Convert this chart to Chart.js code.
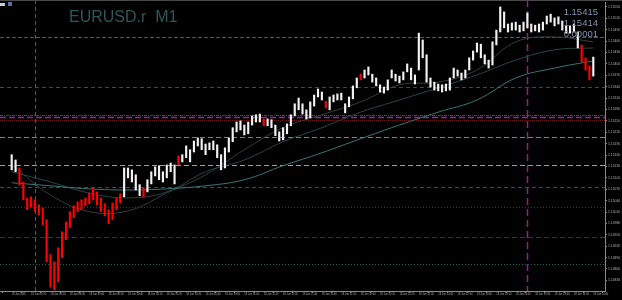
<!DOCTYPE html>
<html>
<head>
<meta charset="utf-8">
<script src="https://cdn.jsdelivr.net/npm/chart.js@4.4.1/dist/chart.umd.min.js"></script>
<style>
  html, body { margin: 0; padding: 0; background: #000; }
</style>
</head>
<body>
<canvas id="grafico" width="622" height="300"></canvas>
<script>
// EURUSD.r M1 - one entry per bar (high / low)
const highs = [
  1.15161, 1.15147, 1.15126, 1.15089, 1.15047, 1.15050, 1.15042, 1.15029, 1.15021, 1.14990,
  1.14898, 1.14879, 1.14916, 1.14958, 1.14984, 1.15011, 1.15026, 1.15037, 1.15042, 1.15047,
  1.15060, 1.15074, 1.15063, 1.15047, 1.15032, 1.15016, 1.15034, 1.15047, 1.15058, 1.15126,
  1.15126, 1.15121, 1.15108, 1.15082, 1.15074, 1.15095, 1.15116, 1.15129, 1.15132, 1.15116,
  1.15134, 1.15139, 1.15134, 1.15158, 1.15161, 1.15184, 1.15174, 1.15197, 1.15205, 1.15203,
  1.15189, 1.15192, 1.15197, 1.15187, 1.15161, 1.15179, 1.15205, 1.15232, 1.15247, 1.15250,
  1.15239, 1.15247, 1.15263, 1.15266, 1.15268, 1.15255, 1.15255, 1.15253, 1.15239, 1.15221,
  1.15232, 1.15242, 1.15266, 1.15295, 1.15310, 1.15295, 1.15279, 1.15300, 1.15318, 1.15334,
  1.15326, 1.15302, 1.15313, 1.15318, 1.15321, 1.15323, 1.15295, 1.15313, 1.15342, 1.15363,
  1.15373, 1.15384, 1.15392, 1.15373, 1.15363, 1.15345, 1.15339, 1.15358, 1.15384, 1.15373,
  1.15368, 1.15379, 1.15400, 1.15389, 1.15371, 1.15481, 1.15463, 1.15424, 1.15363, 1.15352,
  1.15347, 1.15345, 1.15347, 1.15363, 1.15389, 1.15384, 1.15376, 1.15384, 1.15416, 1.15434,
  1.15455, 1.15452, 1.15424, 1.15410, 1.15458, 1.15489, 1.15550, 1.15537, 1.15505, 1.15508,
  1.15510, 1.15502, 1.15510, 1.15534, 1.15505, 1.15502, 1.15505, 1.15510, 1.15526, 1.15531,
  1.15521, 1.15524, 1.15513, 1.15500, 1.15500, 1.15505, 1.15484, 1.15450, 1.15416, 1.15395,
  1.15418
];
const lows = [
  1.15121, 1.15116, 1.15082, 1.15042, 1.15016, 1.15024, 1.15011, 1.15003, 1.14976, 1.14879,
  1.14813, 1.14805, 1.14826, 1.14890, 1.14937, 1.14969, 1.14995, 1.15011, 1.15016, 1.15026,
  1.15032, 1.15042, 1.15029, 1.15011, 1.15000, 1.14979, 1.14990, 1.15016, 1.15034, 1.15050,
  1.15100, 1.15089, 1.15068, 1.15053, 1.15050, 1.15063, 1.15084, 1.15105, 1.15095, 1.15089,
  1.15100, 1.15116, 1.15084, 1.15134, 1.15142, 1.15153, 1.15142, 1.15168, 1.15184, 1.15174,
  1.15161, 1.15174, 1.15174, 1.15153, 1.15121, 1.15126, 1.15168, 1.15195, 1.15221, 1.15226,
  1.15213, 1.15216, 1.15239, 1.15247, 1.15247, 1.15237, 1.15237, 1.15232, 1.15211, 1.15197,
  1.15200, 1.15216, 1.15237, 1.15263, 1.15279, 1.15268, 1.15255, 1.15258, 1.15289, 1.15313,
  1.15305, 1.15284, 1.15279, 1.15300, 1.15305, 1.15305, 1.15271, 1.15287, 1.15308, 1.15337,
  1.15358, 1.15363, 1.15371, 1.15352, 1.15342, 1.15326, 1.15323, 1.15331, 1.15363, 1.15355,
  1.15350, 1.15358, 1.15379, 1.15358, 1.15347, 1.15384, 1.15416, 1.15352, 1.15339, 1.15331,
  1.15329, 1.15326, 1.15329, 1.15331, 1.15363, 1.15368, 1.15358, 1.15363, 1.15384, 1.15410,
  1.15431, 1.15416, 1.15400, 1.15389, 1.15397, 1.15450, 1.15484, 1.15495, 1.15484, 1.15489,
  1.15489, 1.15484, 1.15487, 1.15495, 1.15484, 1.15487, 1.15484, 1.15489, 1.15505, 1.15510,
  1.15500, 1.15505, 1.15489, 1.15481, 1.15481, 1.15484, 1.15442, 1.15405, 1.15384, 1.15358,
  1.15368
];
// bars painted red by the indicator
const redBars = [2, 3, 4, 5, 6, 7, 8, 9, 10, 11, 12, 13, 14, 15, 16, 17, 18, 19, 20, 21,
  22, 23, 24, 25, 26, 27, 28, 34, 43, 65, 81, 90, 147, 148, 149];

// moving averages, sampled every 10 bars
const maIdx = [0, 10, 20, 30, 40, 50, 60, 70, 80, 90, 100, 110, 120, 130, 140, 150];
const maFast = [1.15134, 1.15055, 1.15011, 1.15013, 1.15060, 1.15108, 1.15174, 1.15232,
  1.15266, 1.15300, 1.15345, 1.15352, 1.15384, 1.15458, 1.15471, 1.15458];
const maMid = [1.15116, 1.15089, 1.15060, 1.15047, 1.15063, 1.15116, 1.15147, 1.15195,
  1.15232, 1.15273, 1.15305, 1.15337, 1.15371, 1.15410, 1.15437, 1.15442];
const maSlow = [1.15087, 1.15079, 1.15071, 1.15068, 1.15071, 1.15079, 1.15095, 1.15132,
  1.15166, 1.15203, 1.15239, 1.15273, 1.15305, 1.15363, 1.15389, 1.15408];

// horizontal levels and vertical time lines (bar index)
const levels = [1.15470, 1.15339, 1.15266, 1.15259, 1.15253, 1.15208, 1.15134, 1.15076, 1.15024, 1.14945, 1.14874];
const vLines = [6, 133];

// axes
const yTicks = [1.1555, 1.1552, 1.1549, 1.1546, 1.1543, 1.1540, 1.1537, 1.1534, 1.1531, 1.1528,
  1.1525, 1.1522, 1.1519, 1.1516, 1.1513, 1.1510, 1.1507, 1.1504, 1.1501, 1.1498,
  1.1495, 1.1492, 1.1489, 1.1486, 1.1483];
const timeTickIdx = [0, 5, 10, 15, 20, 25, 30, 35, 40, 45, 50, 55, 60, 65, 70, 75,
  80, 85, 90, 95, 100, 105, 110, 115, 120, 125, 130, 135, 140, 145, 150];
const timeLabels = ['18 Jun 2025', '18 Jun 09:10', '18 Jun 09:20', '18 Jun 09:30', '18 Jun 09:40',
  '18 Jun 09:50', '18 Jun 10:00', '18 Jun 10:10', '18 Jun 10:20', '18 Jun 10:30', '18 Jun 10:40',
  '18 Jun 10:50', '18 Jun 11:00', '18 Jun 11:10', '18 Jun 11:20', '18 Jun 11:30', '18 Jun 11:40',
  '18 Jun 11:50', '18 Jun 12:00', '18 Jun 12:10', '18 Jun 12:20', '18 Jun 12:30', '18 Jun 12:40',
  '18 Jun 12:50', '18 Jun 13:00', '18 Jun 13:10', '18 Jun 13:20', '18 Jun 13:30', '18 Jun 13:40',
  '18 Jun 13:50', '18 Jun 14:00'];

const infoText = ['1.15415', '1.15414', '0.00001'];

// styles for the levels, same order as levels
const levelStyle = [
  { color: '#1d7a1d', dash: [4, 2] },
  { color: '#1f5656', dash: [4, 3] },
  { color: '#186a18', dash: [3, 1, 1, 1] },
  { color: '#a020a0', dash: [6, 3], width: 1.5 },
  { color: '#6a1616', dash: [1, 1] },
  { color: '#c0740f', dash: [5, 3] },
  { color: '#b0b018', dash: [5, 3] },
  { color: '#1f5656', dash: [4, 3] },
  { color: '#5c1c6a', dash: [1, 2] },
  { color: '#8c1414', dash: [5, 3] },
  { color: '#1c6464', dash: [1, 2] }
];
const vStyle = [
  { color: '#2266a0', dash: [4, 3], width: 1 },
  { color: '#921e92', dash: [7, 4], width: 1.5 }
];

const barPts = lows.map((lo, i) => ({ x: i, y: [lo, highs[i]] }));
const barColors = lows.map((lo, i) => redBars.includes(i) ? '#ff0000' : '#f2f2f2');
const pts = arr => maIdx.map((x, k) => ({ x: x, y: arr[k] }));

const decor = {
  id: 'decor',
  beforeDatasetsDraw(chart) {
    const { ctx, chartArea: a, scales: { x, y } } = chart;
    ctx.save();
    levels.forEach((p, k) => {
      const st = levelStyle[k];
      const py = Math.round(y.getPixelForValue(p)) + 0.5;
      ctx.strokeStyle = st.color;
      ctx.lineWidth = st.width || 1;
      ctx.setLineDash(st.dash);
      ctx.beginPath();
      ctx.moveTo(a.left, py);
      ctx.lineTo(a.right, py);
      ctx.stroke();
    });
    vLines.forEach((v, k) => {
      const st = vStyle[k];
      const px = Math.round(x.getPixelForValue(v)) + 0.5;
      ctx.strokeStyle = st.color;
      ctx.lineWidth = st.width;
      ctx.setLineDash(st.dash);
      ctx.beginPath();
      ctx.moveTo(px, 0);
      ctx.lineTo(px, a.bottom);
      ctx.stroke();
    });
    ctx.restore();
  },
  afterDraw(chart) {
    const ctx = chart.ctx;
    ctx.save();
    ctx.fillStyle = '#4a4a4a';
    ctx.fillRect(0, 0, 622, 1);
    // little icons top left
    ctx.fillStyle = '#c8ccd8';
    ctx.fillRect(0, 3, 5, 3);
    ctx.fillStyle = '#5872a8';
    ctx.fillRect(8, 2, 4, 4);

    ctx.fillStyle = '#2f5757';
    ctx.font = '16px "Liberation Sans", Arial, sans-serif';
    ctx.textBaseline = 'alphabetic';
    ctx.fillText('EURUSD.r  M1', 69, 22);

    ctx.fillStyle = '#7f93ad';
    ctx.font = '9.5px "Liberation Sans", Arial, sans-serif';
    ctx.textAlign = 'right';
    infoText.forEach((t, k) => ctx.fillText(t, 598, 15 + k * 11));
    ctx.restore();
  }
};

const lineDs = (arr, color) => ({
  type: 'line',
  data: pts(arr),
  borderColor: color,
  borderWidth: 1,
  pointRadius: 0,
  tension: 0.4,
  order: 2
});

new Chart(document.getElementById('grafico'), {
  type: 'bar',
  data: {
    datasets: [
      lineDs(maSlow, '#3b7676'),
      lineDs(maMid, '#264747'),
      lineDs(maFast, '#343f3d'),
      {
        type: 'bar',
        data: barPts,
        backgroundColor: barColors,
        barThickness: 1.5,
        borderWidth: 0,
        order: 1
      }
    ]
  },
  options: {
    responsive: false,
    animation: false,
    layout: { padding: { top: 2, left: 0, right: 0, bottom: 0 } },
    plugins: { legend: { display: false }, tooltip: { enabled: false } },
    scales: {
      x: {
        type: 'linear',
        min: -0.5,
        max: 150.5,
        grid: { drawOnChartArea: false, tickLength: 2, color: '#8a8a8a' },
        border: { color: '#8a8a8a' },
        ticks: {
          autoSkip: false,
          maxRotation: 0,
          minRotation: 0,
          align: 'start',
          padding: 0,
          color: '#b0b0b0',
          font: { size: 2.6, family: '"Liberation Sans", Arial' },
          callback: (v, i) => timeLabels[i]
        },
        afterBuildTicks: s => { s.ticks = timeTickIdx.map(v => ({ value: v })); },
        afterFit: s => { s.height = 9; s.paddingLeft = 0; s.paddingRight = 0; }
      },
      y: {
        position: 'right',
        min: 1.14802,
        max: 1.15563,
        grid: { drawOnChartArea: false, tickLength: 2, color: '#8a8a8a' },
        border: { color: '#8a8a8a' },
        ticks: {
          padding: 1,
          color: '#b0b0b0',
          font: { size: 3.4, family: '"Liberation Sans", Arial' },
          callback: v => v.toFixed(5)
        },
        afterBuildTicks: s => { s.ticks = yTicks.map(v => ({ value: v })); },
        afterFit: s => { s.width = 17; s.paddingTop = 0; s.paddingBottom = 0; }
      }
    }
  },
  plugins: [decor]
});
</script>
</body>
</html>
